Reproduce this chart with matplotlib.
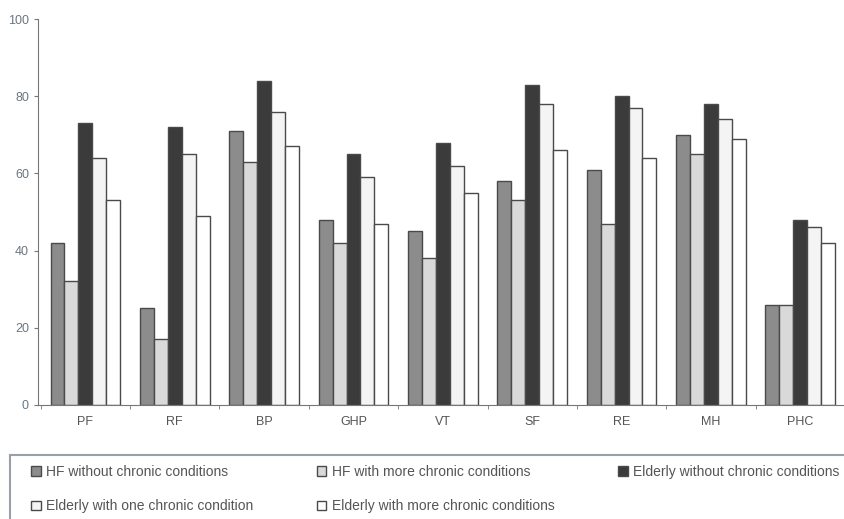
import numpy as np
import matplotlib.pyplot as plt
from matplotlib.patches import Rectangle

plt.rcParams['font.family'] = ['Liberation Sans', 'DejaVu Sans']

# catégories SF-36 et séries
categories = ['PF', 'RF', 'BP', 'GHP', 'VT', 'SF', 'RE', 'MH', 'PHC']
series_names = ['HF without chronic conditions',
                'HF with more chronic conditions',
                'Elderly without chronic conditions',
                'Elderly with one chronic condition',
                'Elderly with more chronic conditions']
hf_none = [42, 25, 71, 48, 45, 58, 61, 70, 26]
hf_more = [32, 17, 63, 42, 38, 53, 47, 65, 26]
eld_none = [73, 72, 84, 65, 68, 83, 80, 78, 48]
eld_one = [64, 65, 76, 59, 62, 78, 77, 74, 46]
eld_more = [53, 49, 67, 47, 55, 66, 64, 69, 42]

values = [hf_none, hf_more, eld_none, eld_one, eld_more]
colors = ['#8c8c8c', '#d9d9d9', '#3b3b3b', '#f4f4f4', '#ffffff']

fig = plt.figure(figsize=(8.45, 5.19), dpi=100)
ax = fig.add_axes([0.045, 0.22, 0.955, 0.743])

x = np.arange(len(categories))
w = 0.156
handles = []
for i, (vals, c) in enumerate(zip(values, colors)):
    b = ax.bar(x + (i - 2) * w, vals, width=w, color=c, edgecolor='#4a4a4a', linewidth=1.0)
    handles.append(b)

ax.set_xlim(-0.53, 8.5)
ax.set_ylim(0, 100)
ax.set_yticks(range(0, 101, 20))
ax.set_xticks(x)
ax.set_xticklabels(categories)
ax.set_xticks(np.arange(-0.5, 8.5, 1), minor=True)
ax.tick_params(axis='x', which='major', length=0, pad=8, labelsize=9, labelcolor='#555555')
ax.tick_params(axis='x', which='minor', length=3, color='#777777')
ax.tick_params(axis='y', length=3, color='#777777', labelsize=9, labelcolor='#6b7680')
for s in ['top', 'right']:
    ax.spines[s].set_visible(False)
for s in ['left', 'bottom']:
    ax.spines[s].set_color('#777777')

# cadre de la légende (ouvert à droite)
fig.patches.append(Rectangle((10 / 845, -0.01), 1.0, 0.133, transform=fig.transFigure,
                             fill=False, edgecolor='#9aa0a8', linewidth=1.5))

order = [0, 3, 1, 4, 2]
leg = fig.legend([handles[i] for i in order], [series_names[i] for i in order],
                 loc='lower left', bbox_to_anchor=(0.03, 0.0, 0.97, 0.128),
                 mode='expand', ncol=3, fontsize=10, frameon=False,
                 handlelength=0.7, handleheight=0.7, handletextpad=0.4,
                 borderaxespad=0.0, labelspacing=1.5, labelcolor='#555555')

fig.savefig('out.png', dpi=100)
